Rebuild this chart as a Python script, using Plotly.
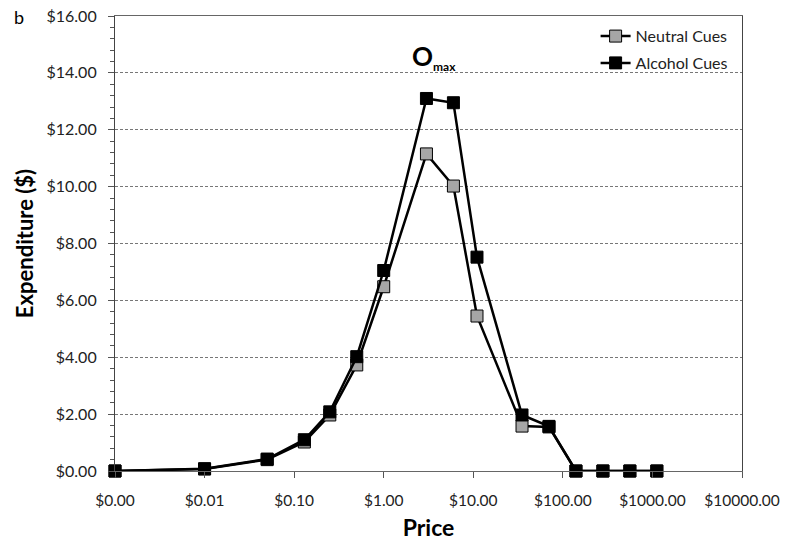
import plotly.graph_objects as go

prices = [0, 0.01, 0.05, 0.13, 0.25, 0.5, 1, 3, 6, 11, 35, 70, 140, 280, 560, 1120]
neutral = [0, 0.07, 0.40, 1.02, 1.97, 3.73, 6.48, 11.15, 10.02, 5.45, 1.58, 1.55, 0, 0, 0, 0]
alcohol = [0, 0.08, 0.42, 1.10, 2.08, 4.02, 7.05, 13.10, 12.95, 7.52, 1.97, 1.57, 0, 0, 0, 0]

x_tickvals = [0.001, 0.01, 0.1, 1, 10, 100, 1000, 10000]
x_ticktext = ["$0.00", "$0.01", "$0.10", "$1.00", "$10.00", "$100.00", "$1000.00", "$10000.00"]
y_tickvals = [0, 2, 4, 6, 8, 10, 12, 14, 16]
y_ticktext = ["$%.2f" % v for v in y_tickvals]

# price of $0 is placed at the axis origin ($0.001) on the log axis
xplot = [p if p > 0 else 0.001 for p in prices]

FONT = "Lato"
fig = go.Figure()
fig.add_trace(go.Scatter(
    x=xplot, y=neutral, name="Neutral Cues", mode="lines+markers", legendgroup="n",
    line=dict(color="black", width=2.5),
    marker=dict(symbol="square", size=12, color="#a6a6a6", line=dict(color="black", width=1)),
    cliponaxis=False,
))
fig.add_trace(go.Scatter(
    x=xplot, y=alcohol, name="Alcohol Cues", mode="lines+markers", legendgroup="a",
    line=dict(color="black", width=2.5),
    marker=dict(symbol="square", size=12, color="black", line=dict(color="black", width=1)),
    cliponaxis=False,
))

fig.update_layout(
    width=788, height=541,
    margin=dict(l=115, r=46, t=16, b=70),
    paper_bgcolor="white", plot_bgcolor="white",
    font=dict(family=FONT, color="black", size=15),
    showlegend=True,
    legend=dict(x=0.985, y=0.993, xanchor="right", yanchor="top",
                font=dict(family=FONT, size=16, color="#222"),
                bgcolor="rgba(255,255,255,0)", traceorder="grouped", tracegroupgap=3,
                itemwidth=30),
    xaxis=dict(
        type="log", range=[-3, 4], automargin=False,
        tickvals=x_tickvals, ticktext=x_ticktext,
        ticks="outside", ticklen=6, tickcolor="#555",
        showline=True, linecolor="#666", linewidth=1.2, mirror=True,
        showgrid=False, zeroline=False,
        tickfont=dict(family=FONT, size=15.5, color="#222"),
        ticklabelstandoff=9, ticklabeloverflow="allow",
        title=dict(text="<b>Price</b>", font=dict(family=FONT, size=23, color="black"), standoff=16),
    ),
    yaxis=dict(
        range=[0, 16], automargin=False,
        tickvals=y_tickvals, ticktext=y_ticktext,
        ticks="outside", ticklen=6, tickcolor="#555",
        minor=dict(dtick=0.4, ticks="outside", ticklen=4, tickcolor="#555", showgrid=False),
        showline=True, linecolor="#444", linewidth=1.2, mirror=True,
        showgrid=True, gridcolor="#777", gridwidth=1, griddash="3px,2px",
        zeroline=False,
        tickfont=dict(family=FONT, size=16, color="#222"),
        ticklabelstandoff=8, ticklabeloverflow="allow",
        title=dict(text="<b>Expenditure ($)</b>", font=dict(family=FONT, size=22, color="black"), standoff=6),
    ),
)

fig.add_annotation(
    x=0.509, y=14.55, xref="x domain", yref="y", xanchor="center", yanchor="middle",
    text="<b>O<sub><span style='font-size:12px'>max</span></sub></b>", showarrow=False,
    font=dict(family=FONT, size=26, color="black"),
)
fig.add_annotation(
    x=-0.164, y=0.998, xref="paper", yref="paper", xanchor="left", yanchor="middle",
    text="b", showarrow=False, font=dict(family=FONT, size=18, color="black"),
)

fig.write_html("out.html", config={"displayModeBar": False},
               post_script="document.body.style.margin='0';")
